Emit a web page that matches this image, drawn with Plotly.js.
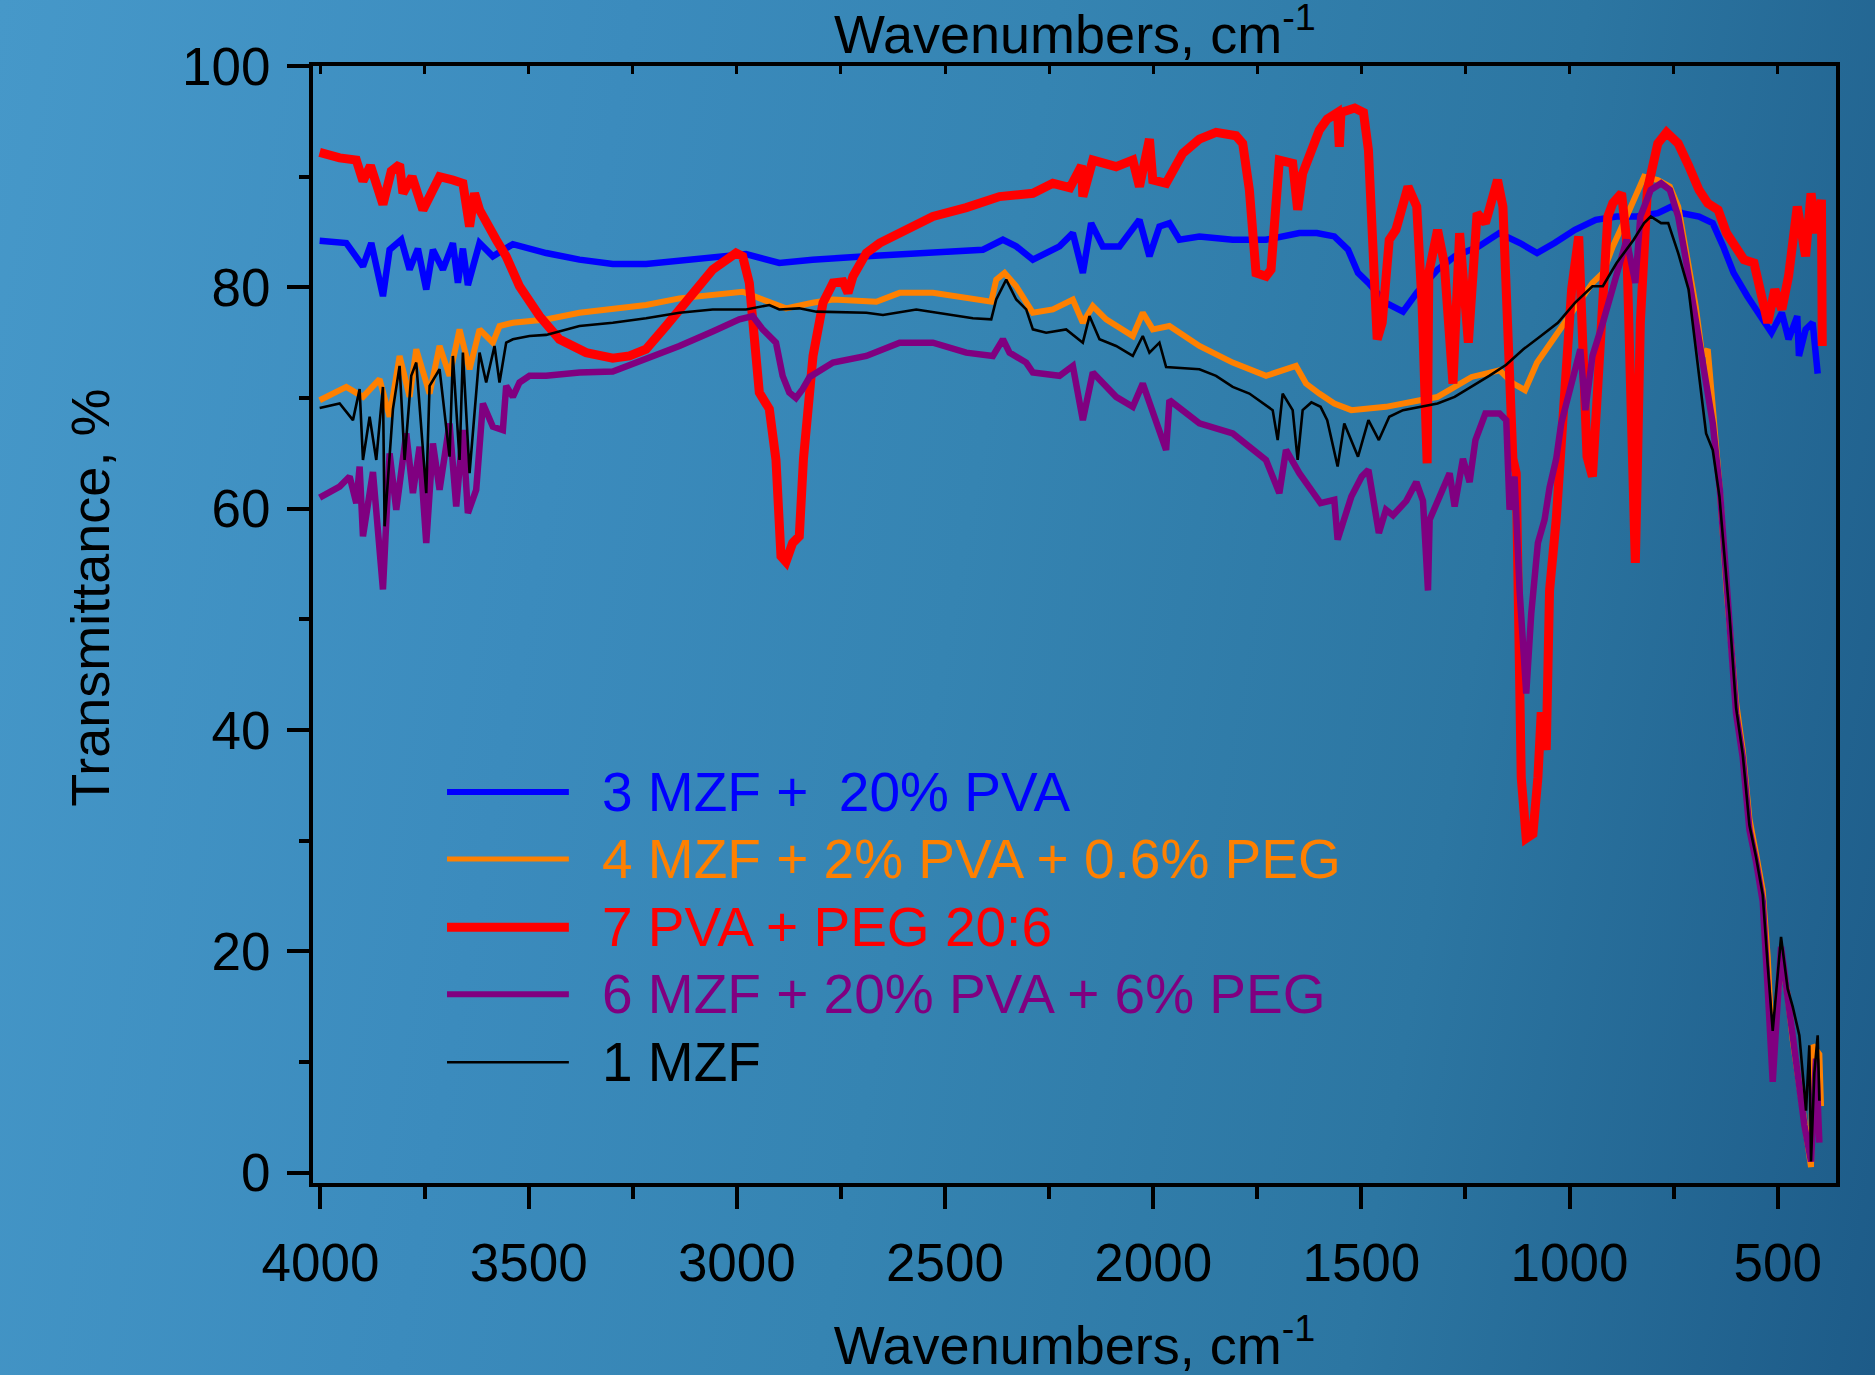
<!DOCTYPE html>
<html><head><meta charset="utf-8">
<script src="https://cdn.plot.ly/plotly-3.0.1.min.js"></script>
<style>
html,body{margin:0;padding:0;width:1875px;height:1375px;overflow:hidden;
background:linear-gradient(100deg,#4698c9 0%,#3b8bbd 30%,#3584b2 50%,#2c76a2 75%,#1d5b88 100%);}
#chart{width:1875px;height:1375px;}
</style></head><body><div id="chart"></div>
<script>
// Series names and colours
const seriesNames = ['3 MZF +  20% PVA','4 MZF + 2% PVA + 0.6% PEG','7 PVA + PEG 20:6','6 MZF + 20% PVA + 6% PEG','1 MZF'];
const seriesColors = ['#0000ff','#ff8000','#ff0000','#800080','#000000'];
const seriesWidths = [6.5,6,9,6.5,2.6];
const xTicks = [4000,3500,3000,2500,2000,1500,1000,500];
const yTicks = [0,20,40,60,80,100];
const xTitle = 'Wavenumbers, cm<sup>-1</sup>';
const yTitle = 'Transmittance, %';

// [wavenumber, transmittance %]
const bluePts = [[4002,84.2],[3938,84.0],[3898,81.9],[3878,84.0],[3850,79.2],[3834,83.4],[3806,84.3],[3786,81.6],[3766,83.5],[3746,79.8],[3730,83.4],[3706,81.6],[3682,84.0],[3670,80.4],[3658,83.5],[3646,80.2],[3618,84.0],[3586,82.8],[3538,83.9],[3458,83.1],[3378,82.5],[3298,82.1],[3218,82.1],[3138,82.4],[3058,82.7],[2978,83.0],[2898,82.2],[2818,82.5],[2689,82.8],[2529,83.1],[2409,83.4],[2361,84.3],[2329,83.7],[2289,82.5],[2225,83.7],[2193,84.9],[2169,81.3],[2149,85.8],[2121,83.7],[2081,83.7],[2033,86.1],[2009,82.8],[1985,85.5],[1961,85.8],[1937,84.3],[1889,84.6],[1809,84.3],[1729,84.3],[1649,84.9],[1607,84.9],[1565,84.6],[1532,83.4],[1508,81.3],[1483,80.4],[1441,78.6],[1400,77.8],[1367,79.5],[1317,81.6],[1276,82.8],[1218,83.7],[1169,84.9],[1119,84.0],[1078,83.1],[1036,84.0],[987,85.2],[937,86.1],[887,86.4],[838,86.4],[788,86.7],[755,87.3],[730,86.7],[689,86.4],[656,85.8],[631,83.7],[606,81.3],[573,79.2],[540,77.4],[515,75.9],[490,77.7],[474,75.3],[453,77.4],[449,73.8],[433,76.2],[416,76.8],[404,72.2]];

const orangePts = [[4002,69.8],[3938,71.0],[3898,70.1],[3858,71.7],[3834,68.3],[3810,73.8],[3786,70.1],[3770,74.4],[3738,70.4],[3714,74.7],[3690,72.0],[3666,76.2],[3642,72.6],[3618,76.2],[3586,75.0],[3570,76.5],[3538,76.8],[3458,77.1],[3378,77.7],[3298,78.1],[3218,78.4],[3138,79.0],[3058,79.3],[2986,79.6],[2938,78.9],[2882,78.1],[2818,78.6],[2769,78.9],[2665,78.7],[2609,79.5],[2529,79.5],[2449,79.0],[2389,78.7],[2377,80.7],[2357,81.3],[2329,80.1],[2289,77.7],[2241,78.0],[2193,78.9],[2169,76.8],[2145,78.3],[2113,77.1],[2049,75.6],[2025,77.7],[2001,76.2],[1961,76.5],[1889,74.7],[1809,73.2],[1729,72.0],[1657,72.9],[1633,71.3],[1601,70.4],[1565,69.5],[1524,68.9],[1441,69.2],[1359,69.8],[1317,70.1],[1235,71.9],[1168,72.5],[1135,71.3],[1107,70.7],[1078,73.2],[1045,75.0],[1011,76.8],[978,78.6],[945,80.4],[920,81.3],[896,83.7],[863,86.4],[821,90.0],[788,89.7],[759,89.1],[739,87.3],[722,83.7],[697,78.3],[681,73.8],[668,74.4],[656,69.2],[639,61.7],[623,52.7],[600,42.5],[584,38.2],[568,32.0],[552,28.8],[536,25.5],[524,19.5],[512,10.3],[492,19.6],[476,16.0],[464,12.0],[440,6.0],[420,0.5],[416,11.5],[400,10.7],[396,6.0]];

const redPts = [[4002,92.2],[3954,91.7],[3914,91.5],[3898,89.6],[3880,91.0],[3850,87.5],[3830,90.5],[3810,91.1],[3802,88.5],[3780,90.0],[3754,87.0],[3714,90.0],[3682,89.7],[3658,89.4],[3642,85.5],[3630,88.5],[3618,87.0],[3602,85.8],[3578,84.3],[3554,82.8],[3522,80.1],[3474,77.4],[3426,75.3],[3362,74.1],[3298,73.6],[3258,73.8],[3218,74.4],[3170,76.5],[3114,79.2],[3058,81.6],[3002,83.1],[2986,82.8],[2970,80.4],[2954,75.0],[2946,70.5],[2922,69.0],[2906,64.4],[2894,55.7],[2882,55.2],[2866,56.9],[2850,57.5],[2840,64.5],[2833,67.7],[2817,73.8],[2793,78.6],[2769,80.4],[2745,80.5],[2733,79.5],[2721,81.0],[2689,83.1],[2657,84.0],[2609,84.9],[2529,86.4],[2449,87.2],[2369,88.2],[2289,88.5],[2241,89.4],[2200,89.0],[2172,91.0],[2169,88.2],[2145,91.5],[2089,90.9],[2049,91.5],[2033,89.1],[2009,93.4],[2001,89.7],[1969,89.4],[1929,92.1],[1889,93.4],[1849,94.0],[1801,93.7],[1785,93.0],[1769,88.8],[1753,81.3],[1729,81.0],[1717,81.6],[1705,88.8],[1697,91.5],[1665,91.2],[1653,87.0],[1641,90.3],[1620,92.5],[1601,94.2],[1582,95.2],[1557,95.8],[1553,92.7],[1549,95.8],[1516,96.2],[1495,95.8],[1483,92.4],[1470,82.8],[1462,75.3],[1450,76.8],[1433,84.3],[1417,85.2],[1400,87.9],[1388,89.1],[1367,87.3],[1354,78.3],[1342,64.1],[1338,81.3],[1317,85.2],[1301,82.2],[1280,71.3],[1264,84.9],[1243,75.0],[1222,86.7],[1202,85.8],[1173,89.7],[1160,87.3],[1152,79.8],[1140,64.7],[1136,64.5],[1128,63.2],[1124,48.4],[1116,35.7],[1104,30.2],[1088,30.6],[1076,35.7],[1068,41.6],[1056,38.2],[1048,52.6],[1032,59.0],[1020,66.0],[995,79.8],[978,84.6],[966,70.7],[958,64.7],[945,62.9],[929,73.8],[908,86.4],[896,87.6],[875,88.5],[863,84.3],[854,73.8],[846,60.0],[842,55.1],[838,62.0],[830,76.8],[813,88.8],[788,93.0],[767,94.0],[739,93.0],[714,91.0],[689,88.8],[668,87.6],[643,87.0],[623,84.9],[602,83.7],[581,82.5],[557,82.2],[536,79.2],[524,76.8],[507,79.8],[490,78.0],[474,81.0],[453,87.3],[433,82.8],[420,88.5],[408,84.9],[395,87.9],[393,74.7]];

const purplePts = [[4002,61.0],[3954,62.0],[3930,62.9],[3914,60.5],[3906,63.8],[3898,57.5],[3874,63.3],[3862,58.7],[3850,52.7],[3834,65.0],[3818,59.9],[3794,66.8],[3778,61.4],[3762,65.6],[3746,56.9],[3730,65.9],[3714,61.7],[3690,67.7],[3674,60.2],[3658,67.1],[3646,59.6],[3626,61.7],[3610,69.5],[3586,67.4],[3562,67.1],[3554,71.1],[3538,70.1],[3522,71.4],[3498,72.0],[3458,72.0],[3378,72.3],[3298,72.4],[3218,73.5],[3138,74.7],[3058,76.0],[2994,77.1],[2962,77.4],[2938,76.2],[2906,75.0],[2890,72.0],[2874,70.5],[2858,70.0],[2842,70.8],[2825,71.9],[2769,73.2],[2689,73.8],[2609,75.0],[2529,75.0],[2449,74.1],[2385,73.8],[2361,75.3],[2345,74.1],[2305,73.2],[2289,72.3],[2225,72.0],[2193,72.9],[2169,68.0],[2145,72.3],[2089,70.1],[2049,69.2],[2025,71.3],[2001,68.9],[1969,65.3],[1961,69.8],[1889,67.7],[1809,66.8],[1769,65.6],[1729,64.4],[1697,61.4],[1681,65.3],[1649,63.2],[1623,61.7],[1598,60.5],[1565,60.8],[1557,57.2],[1524,61.1],[1499,62.9],[1483,63.5],[1458,57.8],[1441,59.9],[1424,59.4],[1392,60.7],[1368,62.4],[1352,60.7],[1340,52.6],[1336,59.0],[1312,61.1],[1288,63.2],[1276,60.2],[1256,64.5],[1240,62.4],[1226,66.2],[1202,68.6],[1168,68.6],[1152,68.0],[1144,59.9],[1132,62.9],[1120,52.6],[1104,43.3],[1092,50.5],[1076,56.9],[1060,59.0],[1048,61.9],[1032,64.5],[1020,67.7],[987,72.2],[974,74.4],[962,68.9],[945,73.8],[920,76.8],[896,79.8],[863,84.3],[842,80.4],[830,86.4],[805,88.8],[780,89.4],[759,88.8],[739,86.4],[722,82.8],[697,76.8],[672,71.6],[656,67.7],[639,61.7],[616,50.0],[600,41.5],[584,37.5],[568,31.0],[552,28.1],[536,24.5],[524,16.6],[512,8.2],[492,20.4],[476,15.5],[464,12.4],[436,4.3],[420,1.0],[408,10.3],[400,2.7]];

const blackPts = [[4002,69.1],[3954,69.5],[3922,68.0],[3906,70.8],[3898,64.4],[3882,68.3],[3866,64.4],[3850,71.0],[3846,58.4],[3826,69.0],[3810,72.9],[3798,64.4],[3782,72.0],[3770,73.2],[3746,61.4],[3738,71.1],[3714,72.6],[3690,64.7],[3682,73.8],[3666,64.4],[3658,74.1],[3642,63.2],[3618,74.1],[3602,71.4],[3582,74.7],[3570,71.4],[3554,75.0],[3538,75.3],[3498,75.6],[3458,75.7],[3378,76.5],[3298,76.8],[3218,77.2],[3138,77.7],[3058,78.0],[2978,78.0],[2922,78.4],[2898,78.0],[2850,78.1],[2809,77.8],[2689,77.7],[2649,77.5],[2569,78.0],[2489,77.5],[2433,77.2],[2389,77.1],[2377,78.9],[2353,80.7],[2329,78.9],[2305,78.0],[2289,76.2],[2257,75.9],[2209,76.2],[2169,75.0],[2153,77.4],[2129,75.3],[2089,74.7],[2049,73.8],[2025,75.6],[2009,74.1],[1985,75.0],[1969,72.8],[1889,72.6],[1849,72.0],[1809,71.0],[1769,70.4],[1713,68.9],[1701,66.2],[1689,70.4],[1665,68.9],[1653,64.4],[1641,68.9],[1620,69.6],[1598,69.2],[1582,68.0],[1557,63.8],[1541,67.7],[1508,64.7],[1483,68.0],[1458,66.2],[1433,68.3],[1400,68.9],[1359,69.2],[1317,69.5],[1276,70.1],[1235,71.0],[1193,72.0],[1152,73.0],[1111,74.4],[1069,75.6],[1028,76.8],[987,78.6],[945,80.1],[920,80.1],[887,82.2],[846,84.3],[821,85.8],[805,86.4],[780,85.8],[763,85.8],[739,83.1],[714,79.8],[689,72.2],[672,66.8],[656,65.3],[640,61.1],[616,50.5],[600,42.0],[584,37.8],[568,31.4],[552,28.5],[536,25.1],[524,18.7],[512,12.8],[492,21.3],[476,16.6],[464,15.0],[448,12.4],[432,5.6],[424,11.5],[420,1.0],[412,9.0],[404,12.4],[400,6.5]];

const allPts = [bluePts, orangePts, redPts, purplePts, blackPts];

const traces = allPts.map((pts, i) => ({
  type: 'scatter', mode: 'lines',
  x: pts.map(p => p[0]), y: pts.map(p => p[1]),
  name: seriesNames[i],
  line: {color: seriesColors[i], width: seriesWidths[i], shape: 'linear'},
  hoverinfo: 'skip', showlegend: false
}));
// empty trace to bind the top (mirror) axis
traces.push({type:'scatter', mode:'lines', x:[], y:[], xaxis:'x2', yaxis:'y', showlegend:false, hoverinfo:'skip'});

const FONT = 'Liberation Sans, Arial, sans-serif';
// hand-placed legend (paper coordinates)
const legY = [0.350, 0.290, 0.229, 0.169, 0.108];
const legLineW = [6, 5, 9, 6, 2.5];
const shapes = [], annotations = [];
seriesNames.forEach((n, i) => {
  shapes.push({type:'line', xref:'paper', yref:'paper', x0:0.088, x1:0.168, y0:legY[i], y1:legY[i],
    line:{color:seriesColors[i], width: legLineW[i]}});
  annotations.push({xref:'paper', yref:'paper', x:0.1884, y:legY[i], xanchor:'left', yanchor:'middle',
    text:n, showarrow:false, font:{size:55, color:seriesColors[i], family:FONT}});
});
annotations.push({xref:'paper', yref:'paper', x:-0.1464, y:0.524, xanchor:'center', yanchor:'middle',
  text:yTitle, textangle:-90, showarrow:false, font:{size:54, color:'#000', family:FONT}});
// top axis title
annotations.push({xref:'paper', yref:'paper', x:0.5, y:1.0005, xanchor:'center', yanchor:'bottom',
  borderpad:0, text:xTitle, showarrow:false, font:{size:54, color:'#000', family:FONT}});

const axBase = {showgrid:false, zeroline:false, showline:true, linewidth:4, linecolor:'#000',
  tickcolor:'#000', tickwidth:4, tickfont:{size:53, color:'#000'}};

const layout = {
  width:1875, height:1375,
  margin:{l:313, r:39, t:66, b:192, pad:0},
  paper_bgcolor:'rgba(0,0,0,0)', plot_bgcolor:'rgba(0,0,0,0)',
  font:{family:FONT, size:53, color:'#000'},
  showlegend:false,
  xaxis: Object.assign({}, axBase, {
    range:[4018, 360], tickmode:'array', tickvals:xTicks, ticks:'outside', ticklen:22,
    mirror:true, ticklabelstandoff:8,
    minor:{tickmode:'linear', tick0:0, dtick:250, ticks:'outside', ticklen:12, tickwidth:4, tickcolor:'#000', showgrid:false},
    title:{text:xTitle, font:{size:54, color:'#000'}, standoff:40}
  }),
  xaxis2: Object.assign({}, axBase, {
    overlaying:'x', side:'top', anchor:'y', range:[4018, 360], tickmode:'linear', tick0:0, dtick:250,
    ticks:'inside', ticklen:8, tickwidth:3, showticklabels:false
  }),
  yaxis: Object.assign({}, axBase, {
    range:[-0.94, 100], tickmode:'array', tickvals:yTicks, ticks:'outside', ticklen:22,
    mirror:true, ticklabelstandoff:6,
    minor:{tickmode:'linear', tick0:0, dtick:10, ticks:'outside', ticklen:10, tickwidth:4, tickcolor:'#000', showgrid:false}
  }),
  shapes: shapes,
  annotations: annotations
};

Plotly.newPlot('chart', traces, layout, {staticPlot:true, displayModeBar:false});
</script></body></html>
